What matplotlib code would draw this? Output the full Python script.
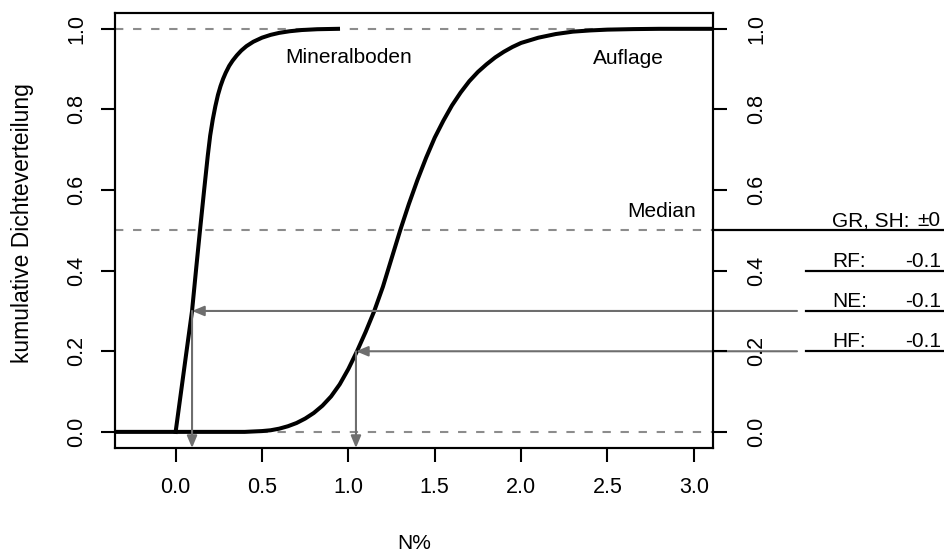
import matplotlib
matplotlib.use("Agg")
import matplotlib.pyplot as plt
from matplotlib.lines import Line2D
from matplotlib.transforms import blended_transform_factory, offset_copy

plt.rcParams['font.family'] = ['Liberation Sans', 'DejaVu Sans']
plt.rcParams['lines.scale_dashes'] = False

# cumulative distribution curves
mineral_x = [0.0, 0.03, 0.06, 0.095, 0.12, 0.141, 0.165, 0.186, 0.20, 0.215, 0.23,
             0.245, 0.26, 0.275, 0.29, 0.31, 0.33, 0.354, 0.38, 0.41, 0.45, 0.50,
             0.55, 0.60, 0.66, 0.73, 0.82, 0.94]
mineral_y = [0.0, 0.095, 0.19, 0.30, 0.41, 0.50, 0.60, 0.685, 0.735, 0.775, 0.808,
             0.836, 0.858, 0.876, 0.891, 0.908, 0.921, 0.934, 0.946, 0.957, 0.968, 0.978,
             0.985, 0.990, 0.994, 0.997, 0.999, 1.0]

auflage_x = [-0.35, 0.4, 0.5, 0.55, 0.6, 0.65, 0.7, 0.75, 0.8, 0.85, 0.9, 0.95, 1.0,
             1.05, 1.1, 1.15, 1.2, 1.25, 1.3, 1.35, 1.4, 1.45, 1.5, 1.55, 1.6, 1.65,
             1.7, 1.75, 1.8, 1.85, 1.9, 1.95, 2.0, 2.1, 2.2, 2.3, 2.4, 2.5, 2.65, 2.8, 3.11]
auflage_y = [0.0, 0.0, 0.002, 0.004, 0.008, 0.014, 0.022, 0.033, 0.047, 0.065, 0.088,
             0.118, 0.156, 0.20, 0.248, 0.30, 0.36, 0.43, 0.50, 0.565, 0.625, 0.68,
             0.73, 0.772, 0.81, 0.842, 0.87, 0.893, 0.912, 0.929, 0.943, 0.955, 0.965,
             0.978, 0.987, 0.993, 0.996, 0.998, 0.9993, 1.0, 1.0]

ref_levels = [0.0, 0.5, 1.0]

# shifted quantiles marked with arrows
arrow_x = [0.095, 1.044]
arrow_p = [0.3, 0.2]

# table on the right
table_labels = ["GR, SH:", "RF:", "NE:", "HF:"]
table_values = ["\u00b10", "-0.1", "-0.1", "-0.1"]
table_levels = [0.5, 0.4, 0.3, 0.2]

x_ticks = [0.0, 0.5, 1.0, 1.5, 2.0, 2.5, 3.0]
y_ticks = [0.0, 0.2, 0.4, 0.6, 0.8, 1.0]

W, H = 944, 555
fig = plt.figure(figsize=(W / 100, H / 100), dpi=100)
ax = fig.add_axes([115 / W, 1 - 448 / H, 598 / W, 435.3 / H])

fs = 15
tfs = 15.5
grey = "#6e6e6e"

for lv in ref_levels:
    ax.axhline(lv, color="#8c8c8c", lw=1.5, dashes=(6, 7), zorder=1)

ax.plot(auflage_x, auflage_y, color="black", lw=2.9, zorder=3)
ax.plot(mineral_x, mineral_y, color="black", lw=2.9, zorder=3)

ax.set_xlim(-0.351, 3.111)
ax.set_ylim(-0.04, 1.04)

mixed = blended_transform_factory(fig.transFigure, ax.transData)
aprops = dict(arrowstyle="-|>,head_length=0.6,head_width=0.25", color=grey, lw=1.5,
              shrinkA=0, shrinkB=0, mutation_scale=12)
for xq, p in zip(arrow_x, arrow_p):
    ax.annotate("", xy=(xq, p), xycoords="data", xytext=(797 / W, p), textcoords=mixed,
                arrowprops=aprops, annotation_clip=False, zorder=4)
    ax.annotate("", xy=(xq, -0.04), xycoords="data", xytext=(xq, p), textcoords="data",
                arrowprops=aprops, annotation_clip=False, zorder=4)

for i, (lab, val, lv) in enumerate(zip(table_labels, table_values, table_levels)):
    x0 = 713 / W if i == 0 else 806 / W
    fig.add_artist(Line2D([x0, 1.0], [lv, lv], transform=mixed, color="black", lw=1.6))
    tr = offset_copy(mixed, fig=fig, y=4, units="dots")
    fig.text(832 / W, lv, lab, transform=tr, fontsize=fs, va="baseline", ha="left")
    fig.text(941 / W, lv, val, transform=tr, fontsize=fs, va="baseline", ha="right")

ax.text(1.003, 0.916, "Mineralboden", fontsize=fs, ha="center", va="baseline")
ax.text(2.624, 0.913, "Auflage", fontsize=fs, ha="center", va="baseline")
ax.text(3.015, 0.533, "Median", fontsize=fs, ha="right", va="baseline")

ax.set_xticks(x_ticks)
ax.set_xticklabels(["%.1f" % v for v in x_ticks])
ax.set_yticks(y_ticks)
ax.set_yticklabels(["%.1f" % v for v in y_ticks])
ax.tick_params(axis="x", length=10, width=1.5, pad=11, labelsize=tfs)
ax.tick_params(axis="y", length=10, width=1.5, pad=10, labelsize=tfs, labelrotation=90)
for t in ax.get_yticklabels():
    t.set_va("center")

ax2 = ax.twinx()
ax2.set_ylim(ax.get_ylim())
ax2.set_yticks(y_ticks)
ax2.set_yticklabels(["%.1f" % v for v in y_ticks])
ax2.tick_params(axis="y", length=10, width=1.5, pad=14, labelsize=tfs, labelrotation=90)
for t in ax2.get_yticklabels():
    t.set_va("center")

for a in (ax, ax2):
    for s in a.spines.values():
        s.set_linewidth(1.5)

ax.set_xlabel("N%", fontsize=fs)
ax.xaxis.set_label_coords(0.5, -0.198)
ax.set_ylabel("kumulative Dichteverteilung", fontsize=16.5)
ax.yaxis.set_label_coords(-0.135, 0.517)

fig.savefig("out.png", dpi=100)
